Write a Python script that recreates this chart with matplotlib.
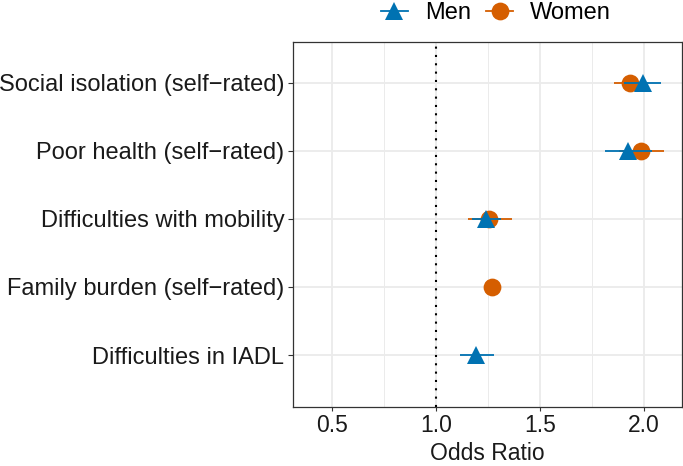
import matplotlib
matplotlib.use("Agg")
import matplotlib.pyplot as plt
from matplotlib.lines import Line2D
import numpy as np

categories = ["Social isolation (self\u2212rated)", "Poor health (self\u2212rated)",
              "Difficulties with mobility", "Family burden (self\u2212rated)",
              "Difficulties in IADL"]

# Men: estimate, lower, upper (None = not shown)
men_or = [1.993, 1.924, 1.241, None, 1.193]
men_lo = [1.905, 1.812, 1.175, None, 1.116]
men_hi = [2.084, 2.040, 1.315, None, 1.280]

women_or = [1.932, 1.985, 1.257, 1.268, None]
women_lo = [1.856, 1.880, 1.156, 1.240, None]
women_hi = [2.010, 2.097, 1.364, 1.300, None]

xticks = [0.5, 1.0, 1.5, 2.0]
xticklabels = ["0.5", "1.0", "1.5", "2.0"]

BLUE = "#0072B2"
ORANGE = "#D55E00"
FS = 17
FSX = 16.5

plt.rcParams['font.family'] = ['Liberation Sans', 'DejaVu Sans']

fig = plt.figure(figsize=(6.83, 4.66), dpi=100)
bottom_px = 406.5
ax = fig.add_axes([293.3/683, (466-bottom_px)/466, (681.7-293.3)/683, (bottom_px-42)/466])

ypos = np.arange(1, len(categories)+1)

def draw(vals, lo, hi, color, marker, ms, z):
    for y, v, l, h in zip(ypos, vals, lo, hi):
        if v is None:
            continue
        ax.plot([l, h], [y, y], color=color, lw=1.3, zorder=z, solid_capstyle='butt')
        ax.plot([v], [y], marker=marker, color=color, ms=ms, mew=0, zorder=z+1, linestyle='none')

draw(women_or, women_lo, women_hi, ORANGE, 'o', 12.8, 3)
draw(men_or, men_lo, men_hi, BLUE, '^', 13.5, 5)

ax.axvline(1.0, color='black', lw=1.5, linestyle=(0, (1, 3)), zorder=2)

ax.set_xlim(0.316, 2.181)
ax.set_ylim(5.754, 0.404)
ax.set_yticks(ypos)
ax.set_yticklabels(categories)
ax.set_xticks(xticks)
ax.set_xticklabels(xticklabels)
ax.set_xticks([0.75, 1.25, 1.75], minor=True)
ax.tick_params(axis='y', which='major', labelsize=FS, color='#333333',
               length=3.5, width=0.8, labelcolor='#1a1a1a', pad=3)
ax.tick_params(axis='x', which='major', labelsize=FSX, color='#333333',
               length=2.75, width=0.8, labelcolor='#1a1a1a', pad=2.5)
ax.tick_params(axis='x', which='minor', length=0)
ax.grid(which='major', color='#EBEBEB', lw=1.3, zorder=0)
ax.grid(which='minor', axis='x', color='#EBEBEB', lw=0.7, zorder=0)
ax.set_axisbelow(True)
for s in ax.spines.values():
    s.set_color('#333333')
    s.set_linewidth(0.9)

fig.text(487.5/683, 0.5/466, "Odds Ratio", fontsize=FSX, color='#1a1a1a',
         ha='center', va='bottom')

handles = [Line2D([0], [0], color=BLUE, lw=1.3, marker='^', ms=13.5, mew=0),
           Line2D([0], [0], color=ORANGE, lw=1.3, marker='o', ms=12.8, mew=0)]
fig.legend(handles, ["Men", "Women"], loc='center', ncol=2,
           bbox_to_anchor=(496/683, 1-13/466), frameon=False, fontsize=FS,
           handlelength=1.15, columnspacing=0.65, handletextpad=0.72,
           borderpad=0, borderaxespad=0)

fig.savefig("out.png", dpi=100)
